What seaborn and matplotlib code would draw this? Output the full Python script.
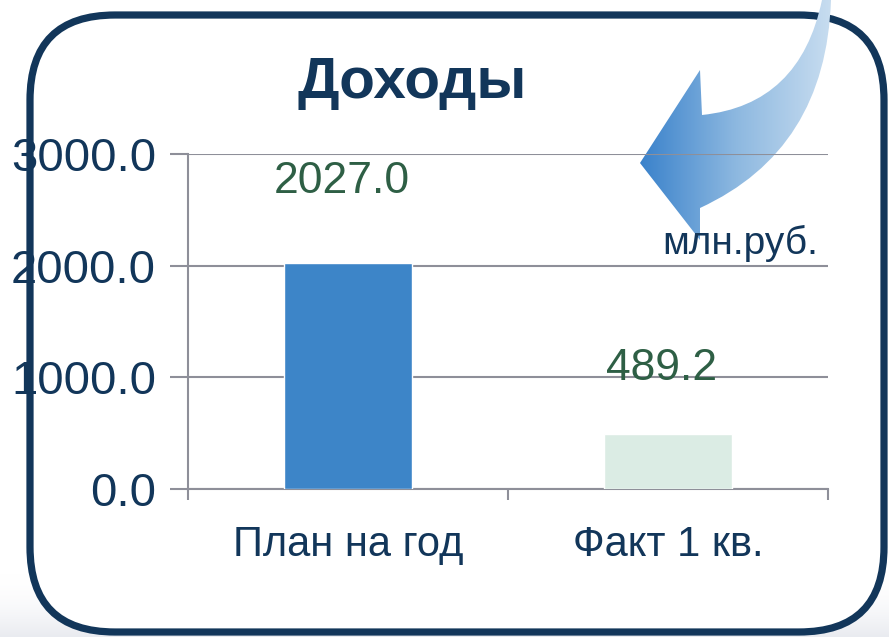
import numpy as np
import matplotlib
matplotlib.use("Agg")
import matplotlib.pyplot as plt
from matplotlib.patches import FancyBboxPatch, PathPatch
from matplotlib.path import Path
import seaborn as sns

categories = ["План на год", "Факт 1 кв."]
values = [2027.0, 489.2]
bar_colors = ["#3D85C8", "#DBECE4"]
yticks = [0, 1000, 2000, 3000]

sns.set_style("white")
plt.rcParams['font.family'] = ['Liberation Sans', 'DejaVu Sans']

navy = "#12365A"
grid_c = "#8E8F99"

fig = plt.figure(figsize=(8.89, 6.37), dpi=100)

# background layer in pixel coords: shadow, border, arrow
bg = fig.add_axes([0, 0, 1, 1], zorder=0)
bg.set_xlim(0, 889)
bg.set_ylim(637, 0)
bg.axis("off")

shade = np.linspace(0, 1, 100)[:, None] ** 2
bg.imshow(shade, extent=[0, 889, 637, 570], cmap=matplotlib.colors.LinearSegmentedColormap.from_list(
    "sh", ["#FFFFFF", "#E9EBF0"]), aspect="auto", zorder=0)

box = FancyBboxPatch((30, 15), 854, 617, boxstyle="round,pad=0,rounding_size=85",
                     fc="white", ec=navy, lw=5.2, zorder=1)
bg.add_patch(box)

verts = [(822, 0), (831, 0),
         (826, 150), (700, 208),
         (700, 240), (640, 163), (700, 70), (702, 115),
         (800, 105), (822, 0), (822, 0)]
codes = [Path.MOVETO, Path.LINETO,
         Path.CURVE3, Path.CURVE3,
         Path.LINETO, Path.LINETO, Path.LINETO, Path.LINETO,
         Path.CURVE3, Path.CURVE3, Path.CLOSEPOLY]
arrow = PathPatch(Path(verts, codes), fc="none", ec="none", zorder=2)
bg.add_patch(arrow)
grad = np.linspace(0, 1, 200)[None, :]
im = bg.imshow(grad, extent=[640, 832, 245, 0], aspect="auto", zorder=2,
               cmap=matplotlib.colors.LinearSegmentedColormap.from_list(
                   "ar", ["#3A82CB", "#8DB8E0", "#C8DDF0"]))
im.set_clip_path(arrow)

# chart
ax = fig.add_axes([188 / 889, 1 - 489 / 637, 640 / 889, 335 / 637], zorder=1)
ax.patch.set_alpha(0)
sns.barplot(x=categories, y=values, hue=categories, palette=bar_colors,
            width=0.4, legend=False, saturation=1, ax=ax, zorder=3)

ax.set_ylim(0, 3000)
ax.set_xlim(-0.5, 1.5)
ax.set_yticks(yticks)
ax.set_yticklabels([f"{v:.1f}" for v in yticks])
ax.yaxis.grid(True, color=grid_c, lw=1.5, zorder=0)
ax.set_axisbelow(True)
for s in ["top", "right"]:
    ax.spines[s].set_visible(False)
for s in ["left", "bottom"]:
    ax.spines[s].set_color(grid_c)
    ax.spines[s].set_linewidth(1.5)
ax.set_xticks([-0.5, 0.5, 1.5], minor=True)
ax.tick_params(axis="x", which="major", bottom=False, length=0, pad=26, labelsize=30,
               labelcolor=navy)
ax.tick_params(axis="x", which="minor", bottom=True, length=8, width=1.5, color=grid_c,
               direction="out")
ax.tick_params(axis="y", left=True, length=13, width=1.5, color=grid_c, pad=10, labelsize=34,
               labelcolor=navy, direction="out")
ax.set_xlabel("")
ax.set_ylabel("")

label_dy = [81, 66]
for i, v in enumerate(values):
    ax.annotate(f"{v:.1f}", xy=(i, v), xytext=(-6, label_dy[i]), textcoords="offset pixels",
                ha="center", va="center", fontsize=32, color="#2E5F45", zorder=5)

fig.text(412 / 889, 1 - 83 / 637, "Доходы", ha="center", va="center",
         fontsize=42, fontweight="bold", color=navy)
fig.text(740 / 889, 1 - 243 / 637, "млн.руб.", ha="center", va="center",
         fontsize=28, color=navy, zorder=3)

fig.savefig("out.png", dpi=100)
